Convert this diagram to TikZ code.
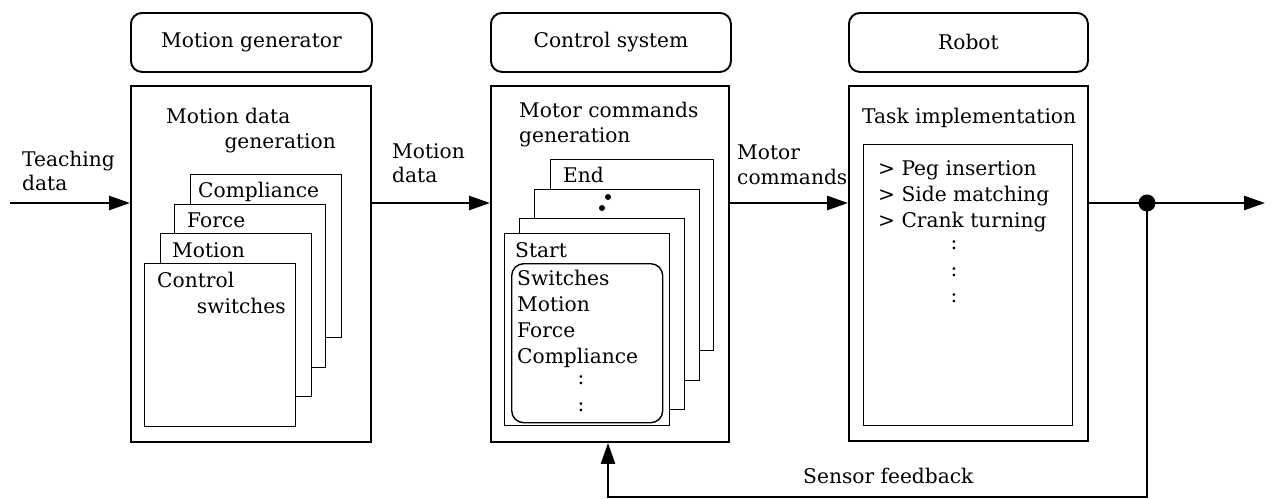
\documentclass[tikz,border=0pt]{standalone}
\usepackage{fontspec}
\setmainfont{DejaVu Serif}
\usetikzlibrary{arrows.meta,calc}
\begin{document}
\begin{tikzpicture}[x=1pt,y=-1pt,
  every node/.style={font=\fontsize{20.2}{24}\selectfont},
  title/.style={draw,line width=1.9pt,rounded corners=11pt,inner sep=0pt,anchor=north west},
  mainbox/.style={draw,line width=1.9pt,inner sep=0pt,anchor=north west},
  page/.style={draw,line width=1.4pt,fill=white,inner sep=0pt,anchor=north west},
  innerround/.style={draw,line width=1.4pt,fill=white,rounded corners=12pt,inner sep=0pt,anchor=north west},
  lbl/.style={inner sep=0pt,anchor=base west},
  lble/.style={inner sep=0pt,anchor=base east},
  arr/.style={line width=2.7pt,-{Triangle[length=21pt,width=14pt]}},
  fb/.style={line width=2.7pt},
  blob/.style={circle,fill=black,inner sep=0pt,minimum size=#1}
]
\useasboundingbox (0,0) rectangle (1277,499);

% title boxes
\node[title,minimum width=241pt,minimum height=59pt] (mg) at (130,12) {};
\node at (mg.center) {Motion generator};
\node[title,minimum width=240pt,minimum height=59pt] (cs) at (490,12) {};
\node at (cs.center) {Control system};
\node[title,minimum width=239pt,minimum height=59pt] (rb) at (848,12) {};
\node at (rb.center) {Robot};

% main boxes
\node[mainbox,minimum width=240pt,minimum height=356pt] (m1) at (130,85) {};
\node[mainbox,minimum width=238pt,minimum height=356pt] (m2) at (490,85) {};
\node[mainbox,minimum width=239pt,minimum height=355pt] (m3) at (848,85) {};

% --- Motion generator contents
\node[lbl] (t1a) at (166,123) {Motion data};
\node[lble] (t1b) at (336,148) {generation};
\node[page,minimum width=151pt,minimum height=163pt] (p1) at (190,174) {};
\node[lbl] at (198,197) {Compliance};
\node[page,minimum width=151pt,minimum height=163pt] (p2) at (174,204) {};
\node[lbl] at (187,227) {Force};
\node[page,minimum width=151pt,minimum height=163pt] (p3) at (160,233) {};
\node[lbl] at (172,257) {Motion};
\node[page,minimum width=151pt,minimum height=163pt] (p4) at (144,263) {};
\node[lbl] at (157,287) {Control};
\node[lble] at (286,313) {switches};

% --- Control system contents
\node[lbl] (t2a) at (519,117) {Motor commands};
\node[lbl] (t2b) at (519,142) {generation};
\node[page,minimum width=163pt,minimum height=191pt] (q1) at (550,159) {};
\node[lbl] at (563,182) {End};
\node[page,minimum width=165pt,minimum height=191pt] (q2) at (534,189) {};
\node[blob=6pt] (d1) at (608,197) {};
\node[blob=6pt] (d2) at (602,208) {};
\node[page,minimum width=165pt,minimum height=191pt] (q3) at (519,218) {};
\node[page,minimum width=165pt,minimum height=192pt] (q4) at (504,233) {};
\node[lbl] at (515,257) {Start};
\node[innerround,minimum width=151pt,minimum height=159pt] (ir) at (511,263) {};
\node[lbl] at (517,285) {Switches};
\node[lbl] at (517,311) {Motion};
\node[lbl] at (517,337) {Force};
\node[lbl] at (517,363) {Compliance};
\node[inner sep=0pt] at (581,380) {:};
\node[inner sep=0pt] at (581,407) {:};

% --- Robot contents
\node[lbl] (t3a) at (862,123) {Task implementation};
\node[page,minimum width=209pt,minimum height=281pt] (tb) at (863,144) {};
\node[lbl] at (878,175) {> Peg insertion};
\node[lbl] at (878,201) {> Side matching};
\node[lbl] at (878,227) {> Crank turning};
\node[inner sep=0pt] at (954,245) {:};
\node[inner sep=0pt] at (954,272) {:};
\node[inner sep=0pt] at (954,298) {:};

% --- connectors
\coordinate (tin) at (10,203);
\coordinate (tout) at (1265,203);
\node[blob=17pt] (jn) at (1147,203) {};
\coordinate (fbr) at (1147,497);
\coordinate (fbl) at (608,497);

\draw[arr] (tin) -- (m1.west |- tin);
\draw[arr] (m1.east |- tin) -- (m2.west |- tin);
\draw[arr] (m2.east |- tin) -- (m3.west |- tin);
\draw[fb] (m3.east |- tin) -- (jn.center);
\draw[arr] (jn.center) -- (tout);
\draw[arr] (jn.center) -- (fbr) -- (fbl) -- (fbl |- m2.south);

% labels
\node[lbl] at (22,166) {Teaching};
\node[lbl] at (22,190) {data};
\node[lbl] at (392,158) {Motion};
\node[lbl] at (392,182) {data};
\node[lbl] at (737,159) {Motor};
\node[lbl] at (737,184) {commands};
\node[lbl] at (803,483) {Sensor feedback};
\end{tikzpicture}
\end{document}
